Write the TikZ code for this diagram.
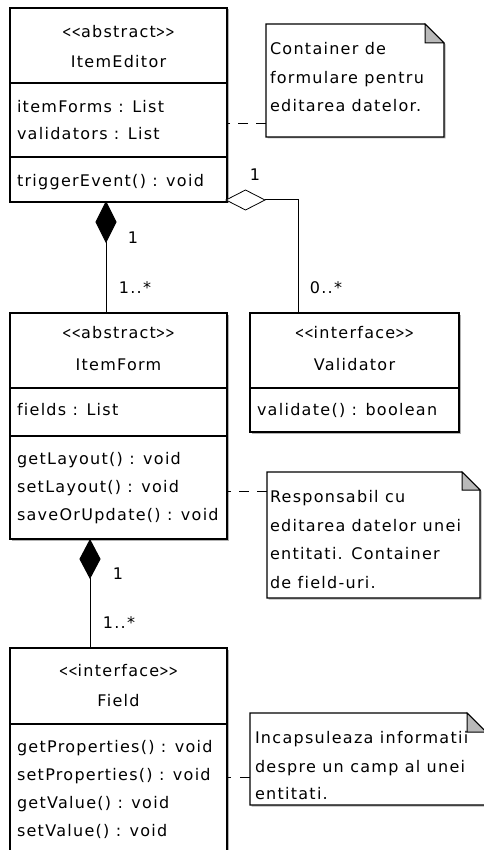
\documentclass[tikz,border=0pt]{standalone}
\usepackage{fontspec}
\setmainfont{DejaVu Sans}[LetterSpace=8, Ligatures={NoCommon}]
\usetikzlibrary{shapes.geometric,shadows}
\newcommand\umlfont{\fontsize{16}{20}\selectfont}
\newcommand\ang[1]{\scalebox{0.7}[1]{#1}}
\newcommand\stereo[1]{\ang{<}\ang{<}#1\ang{>}\ang{>}}
\newcommand\dognote[2]{%
  \draw[notestyle] (#1.north west) -- ([xshift=-#2]#1.north east) -- ([yshift=-#2]#1.north east) -- (#1.south east) -- (#1.south west) -- cycle;}
\newcommand\dogfold[2]{%
  \filldraw[fill=gray!55, line width=1pt] ([xshift=-#2]#1.north east) -- ([xshift=-#2,yshift=-#2]#1.north east) -- ([yshift=-#2]#1.north east) -- cycle;}
\begin{document}
\begin{tikzpicture}[x=1pt,y=-1pt,
  every node/.style={font=\umlfont, inner sep=0pt, outer sep=0pt},
  umlshadow/.style={drop shadow={shadow xshift=1.5pt, shadow yshift=-1.5pt, fill=black, opacity=0.3}},
  classbox/.style={draw, line width=1.2pt, fill=white, anchor=north west, umlshadow},
  notebox/.style={anchor=north west},
  notestyle/.style={draw, line width=1.2pt, fill=white, umlshadow},
  txt/.style={anchor=base west},
  ctxt/.style={anchor=base},
  sep/.style={line width=1.2pt},
  conn/.style={line width=1pt},
  notelink/.style={line width=1pt, dash pattern=on 10pt off 8pt},
  compo/.style={diamond, draw, fill=black, line width=1pt, minimum width=20pt},
  aggr/.style={diamond, draw, fill=white, line width=0.8pt, minimum width=39pt, minimum height=20pt}
]
\useasboundingbox (0,0) rectangle (483,850);

% ---------- ItemEditor ----------
\node[classbox, minimum width=217pt, minimum height=194pt] (ie) at (10,8) {};
\draw[sep] (10,83) -- (227,83);
\draw[sep] (10,157) -- (227,157);
\node[ctxt] (ie-st) at (118.5,37.5) {\stereo{abstract}};
\node[ctxt] (ie-nm) at (118.5,67.5) {ItemEditor};
\node[txt] (ie-a1) at (17,112.5) {itemForms : List};
\node[txt] (ie-a2) at (17,139.5) {validators : List};
\node[txt] (ie-m1) at (17,187) {triggerEvent() : void};

% ---------- ItemForm ----------
\node[classbox, minimum width=217pt, minimum height=226pt] (if) at (10,313) {};
\draw[sep] (10,388) -- (227,388);
\draw[sep] (10,436) -- (227,436);
\node[ctxt] (if-st) at (118.5,338.5) {\stereo{abstract}};
\node[ctxt] (if-nm) at (118.5,370.5) {ItemForm};
\node[txt] (if-a1) at (17,415.5) {fields : List};
\node[txt] (if-m1) at (17,464.5) {getLayout() : void};
\node[txt] (if-m2) at (17,492.5) {setLayout() : void};
\node[txt] (if-m3) at (17,520.5) {saveOrUpdate() : void};

% ---------- Validator ----------
\node[classbox, minimum width=209pt, minimum height=119pt] (vd) at (250,313) {};
\draw[sep] (250,388) -- (459,388);
\node[ctxt] (vd-st) at (354.5,338.5) {\stereo{interface}};
\node[ctxt] (vd-nm) at (354.5,370.5) {Validator};
\node[txt] (vd-m1) at (257,415.5) {validate() : boolean};

% ---------- Field ----------
\node[classbox, minimum width=217pt, minimum height=230pt] (fd) at (10,648) {};
\draw[sep] (10,724) -- (227,724);
\node[ctxt] (fd-st) at (118.5,676.5) {\stereo{interface}};
\node[ctxt] (fd-nm) at (118.5,706.5) {Field};
\node[txt] (fd-m1) at (17,752.5) {getProperties() : void};
\node[txt] (fd-m2) at (17,780.5) {setProperties() : void};
\node[txt] (fd-m3) at (17,808.5) {getValue() : void};
\node[txt] (fd-m4) at (17,836.5) {setValue() : void};

% ---------- Notes ----------
\node[notebox, minimum width=178pt, minimum height=113pt] (n1) at (266,24) {};
\dognote{n1}{19pt}
\node[txt] (n1-t1) at (270,54.5) {Container de};
\node[txt] (n1-t2) at (270,83.5) {formulare pentru};
\node[txt] (n1-t3) at (270,111.5) {editarea datelor.};
\dogfold{n1}{19pt}

\node[notebox, minimum width=213pt, minimum height=126pt] (n2) at (267,472) {};
\dognote{n2}{18pt}
\node[txt] (n2-t1) at (270,502.5) {Responsabil cu};
\node[txt] (n2-t2) at (270,531) {editarea datelor unei};
\node[txt] (n2-t3) at (270,559.5) {entitati. Container};
\node[txt] (n2-t4) at (270,588) {de field-uri.};
\dogfold{n2}{18pt}

\node[notebox, minimum width=236pt, minimum height=92pt] (n3) at (250,713) {};
\dognote{n3}{19pt}
\node[txt] (n3-t1) at (255,743.5) {Incapsuleaza informatii};
\node[txt] (n3-t2) at (255,772.5) {despre un camp al unei};
\node[txt] (n3-t3) at (255,799.5) {entitati.};
\dogfold{n3}{19pt}

% ---------- Note links ----------
\coordinate (l1) at (266,124);
\coordinate (l2) at (267,491);
\coordinate (l3) at (250,777);
\draw[notelink] (l1) -- (l1 -| ie.east);
\draw[notelink] (l2) -- (l2 -| if.east);
\draw[notelink, dash pattern=on 10pt off 9pt] (l3) -- (l3 -| fd.east);

% ---------- Associations ----------
\node[compo, minimum height=40pt] (c1) at (106,222) {};
\draw[conn] (c1.south) -- (c1.south |- if.north);
\node[aggr] (a1) at (245.5,200) {};
\draw[conn] (a1.east) -| ([xshift=-56.5pt]vd.north);
\node[compo, minimum height=38pt] (c2) at (90,559) {};
\draw[conn] (c2.south) -- (c2.south |- fd.north);

% ---------- Multiplicities ----------
\node[ctxt] (m1) at (133,243) {1};
\node[ctxt] (m2) at (135,293) {1..*};
\node[ctxt] (m3) at (255,181) {1};
\node[ctxt] (m4) at (326,293) {0..*};
\node[ctxt] (m5) at (118,579) {1};
\node[ctxt] (m6) at (119,628) {1..*};
\end{tikzpicture}
\end{document}
